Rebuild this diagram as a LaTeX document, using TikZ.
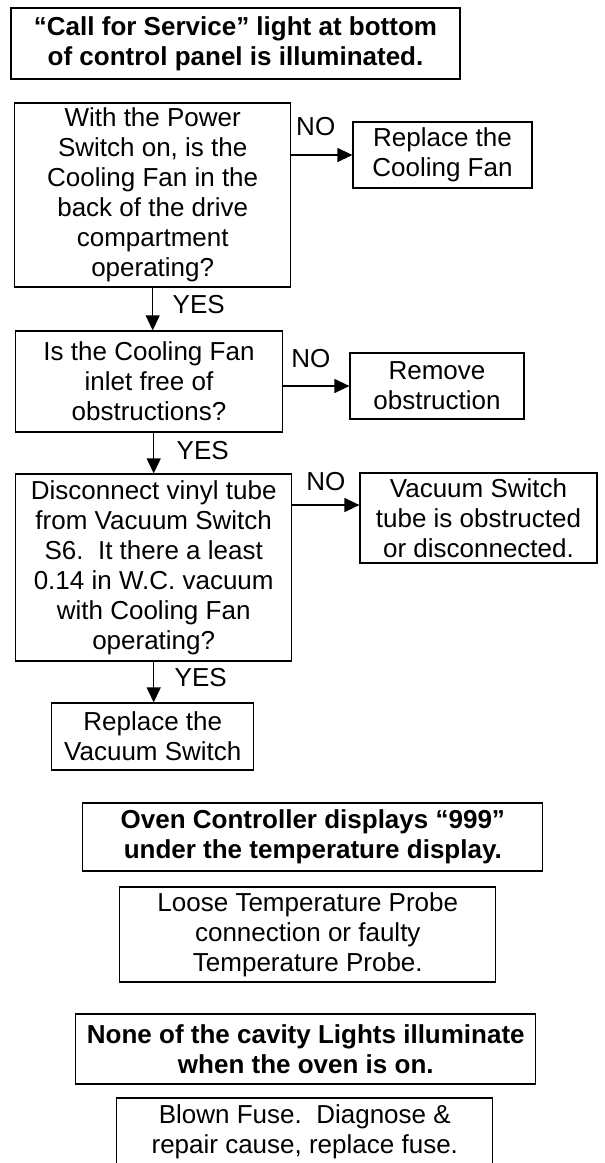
\documentclass[tikz,border=0pt]{standalone}
\usepackage{fontspec}
\setmainfont{Liberation Sans}
\usetikzlibrary{arrows.meta}

\begin{document}
\begin{tikzpicture}[x=1pt, y=-1pt,
    qbox/.style={draw, line width=1.2pt, inner sep=0pt, align=center,
      font=\fontsize{26}{30}\selectfont},
    titlebox/.style={qbox, font=\fontsize{26}{30}\selectfont\bfseries},
    lbl/.style={inner sep=0pt, font=\fontsize{26}{30}\selectfont},
    arr/.style={-{Triangle[length=15pt, width=14pt]}, line width=1.2pt}]
    \clip (0,0) rectangle (605,1163);
    \fill[white] (0,0) rectangle (605,1163);

    %% call for service chart
    \node[titlebox, minimum width=449pt, minimum height=71pt] (call) at (235.5,43.5)
      {“Call for Service” light at bottom\\ of control panel is illuminated.};
    \node[qbox, minimum width=276pt, minimum height=184pt] (fan) at (152.7,195)
      {With the Power\\ Switch on, is the\\ Cooling Fan in the\\ back of the drive\\ compartment\\ operating?};
    \node[qbox, minimum width=179pt, minimum height=66pt] (newfan) at (442.5,155)
      {Replace the\\ Cooling Fan};
    \node[qbox, minimum width=267pt, minimum height=101pt] (inlet) at (149,381.5)
      {Is the Cooling Fan\\ inlet free of\\ obstructions?};
    \node[qbox, minimum width=174pt, minimum height=66pt] (clear) at (437,386)
      {Remove\\ obstruction};
    \node[qbox, minimum width=276pt, minimum height=187pt] (tube) at (153.7,567.5)
      {Disconnect vinyl tube\\ from Vacuum Switch\\ S6.\ \ It there a least\\ 0.14 in W.C. vacuum\\ with Cooling Fan\\ operating?};
    \node[qbox, minimum width=237pt, minimum height=90pt] (blocked) at (478.5,518)
      {Vacuum Switch\\ tube is obstructed\\ or disconnected.};
    \node[qbox, minimum width=202pt, minimum height=67pt] (newvac) at (152.8,736.5)
      {Replace the\\ Vacuum Switch};

    %% arrows
    \draw[arr] (fan.east |- newfan.west) -- node[lbl, pos=0.4, yshift=28pt] (no1) {NO} (newfan.west);
    \draw[arr] (fan.south) -- node[lbl, pos=0.39, xshift=46pt] (yes1) {YES} (fan.south |- inlet.north);
    \draw[arr] (inlet.east |- clear.west) -- node[lbl, pos=0.42, yshift=27pt] (no2) {NO} (clear.west);
    \draw[arr] (tube.north |- inlet.south) -- node[lbl, pos=0.45, xshift=49pt] (yes2) {YES} (tube.north);
    \coordinate (tubein) at ([yshift=13pt]blocked.west);
    \draw[arr] (tube.east |- tubein) -- node[lbl, pos=0.5, yshift=23pt] (no3) {NO} (tubein);
    \draw[arr] (tube.south) -- node[lbl, pos=0.4, xshift=47pt] (yes3) {YES} (tube.south |- newvac.north);

    %% other faults
    \node[titlebox, minimum width=460pt, minimum height=68pt] (code) at (312.8,837)
      {Oven Controller displays “999”\\ under the temperature display.};
    \node[qbox, minimum width=376pt, minimum height=95pt] (probe) at (307.8,934.5)
      {Loose Temperature Probe\\ connection or faulty\\ Temperature Probe.};
    \node[titlebox, minimum width=460pt, minimum height=70pt] (lights) at (305.8,1049)
      {None of the cavity Lights illuminate\\ when the oven is on.};
    \node[qbox, minimum width=376pt, minimum height=68pt] (fuse) at (304.8,1132)
      {Blown Fuse.\ \ Diagnose \&\\ repair cause, replace fuse.};
  \end{tikzpicture}
\end{document}
